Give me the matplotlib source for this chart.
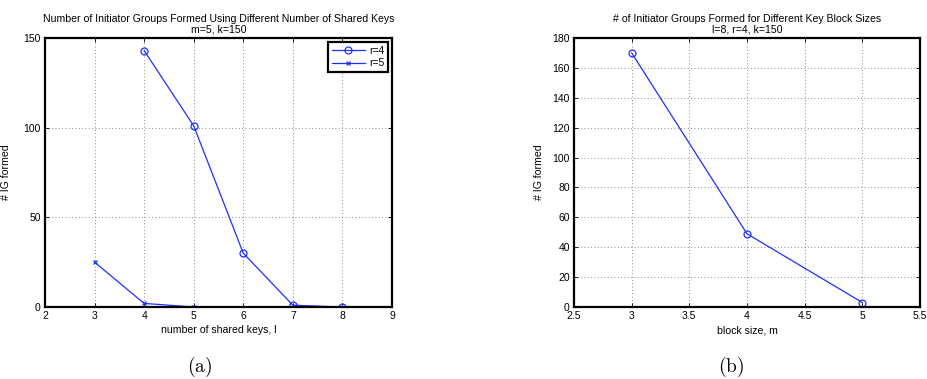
import matplotlib
matplotlib.use("Agg")
import matplotlib.pyplot as plt
from matplotlib.ticker import FormatStrFormatter

# panel (a): IG count vs number of shared keys
shared_keys_r4 = [4, 5, 6, 7, 8]
ig_r4 = [143, 101, 30, 1, 0]
shared_keys_r5 = [3, 4, 5]
ig_r5 = [25, 2, 0]

# panel (b): IG count vs block size
block_sizes = [3, 4, 5]
ig_block = [170, 49, 3]

plt.rcParams["font.family"] = ["Liberation Sans", "DejaVu Sans"]
plt.rcParams["mathtext.fontset"] = "cm"

BLUE = "#1f2fff"

fig = plt.figure(figsize=(9.28, 3.79), dpi=100)
W, H = 928, 379


def make_ax(x0, x1, y0, y1):
    return fig.add_axes([x0 / W, 1 - y1 / H, (x1 - x0) / W, (y1 - y0) / H])


def style(ax):
    for s in ax.spines.values():
        s.set_linewidth(1.6)
    ax.tick_params(direction="in", top=True, right=True, labelsize=7.5, length=3, width=0.6, pad=3)
    ax.grid(True, linestyle=(0, (1, 3)), color="#666666", linewidth=0.6)
    ax.set_axisbelow(True)
    ax.xaxis.set_major_formatter(FormatStrFormatter("%g"))


ax1 = make_ax(45, 392, 38, 307)
ax1.plot(shared_keys_r4, ig_r4, "-o", color=BLUE, lw=0.9, ms=5, mfc="none", mew=0.9, label="r=4")
ax1.plot(shared_keys_r5, ig_r5, "-x", color=BLUE, lw=0.9, ms=3.5, mew=0.9, label="r=5")
ax1.set_xlim(2, 9)
ax1.set_ylim(0, 150)
ax1.set_yticks([0, 50, 100, 150])
style(ax1)
ax1.set_title("Number of Initiator Groups Formed Using Different Number of Shared Keys\nm=5, k=150",
              fontsize=7.6, pad=4, linespacing=1.1)
ax1.set_xlabel("number of shared keys, l", fontsize=7.6, labelpad=3)
ax1.set_ylabel("# IG formed", fontsize=7.6, labelpad=9)
leg = ax1.legend(loc="upper right", fontsize=7.4, fancybox=False, framealpha=1,
                 edgecolor="black", handlelength=3.2, borderpad=0.35, labelspacing=0.25,
                 borderaxespad=0.4, handletextpad=0.4)
leg.get_frame().set_linewidth(1.6)

ax2 = make_ax(574, 920, 38, 307)
ax2.plot(block_sizes, ig_block, "-o", color=BLUE, lw=0.9, ms=5, mfc="none", mew=0.9)
ax2.set_xlim(2.5, 5.5)
ax2.set_ylim(0, 180)
ax2.set_yticks(range(0, 181, 20))
style(ax2)
ax2.set_title("# of Initiator Groups Formed for Different Key Block Sizes\nl=8, r=4, k=150",
              fontsize=7.6, pad=4, linespacing=1.1)
ax2.set_xlabel("block size, m", fontsize=7.6, labelpad=3)
ax2.set_ylabel("# IG formed", fontsize=7.6, labelpad=6)

fig.text(200 / W, 1 - 367 / H, r"$\mathrm{(a)}$", ha="center", va="center", fontsize=14)
fig.text(731 / W, 1 - 367 / H, r"$\mathrm{(b)}$", ha="center", va="center", fontsize=14)

fig.savefig("out.png", dpi=100)
